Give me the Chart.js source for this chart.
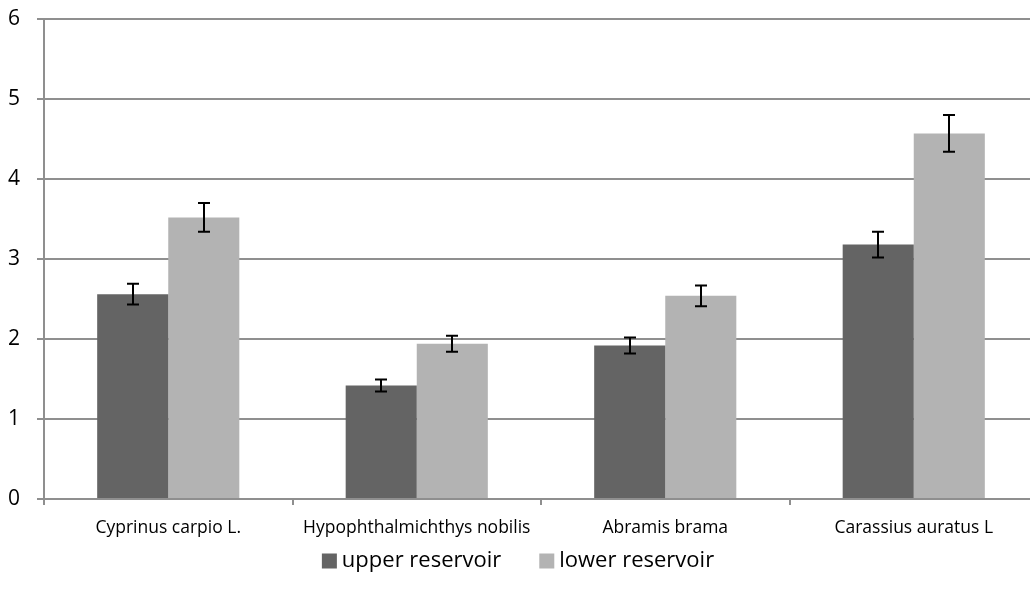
<!DOCTYPE html>
<html>
<head>
<meta charset="utf-8">
<script src="https://cdn.jsdelivr.net/npm/chart.js@4.4.1/dist/chart.umd.min.js"></script>
<style>
  html, body { margin: 0; padding: 0; background: #fff; overflow: hidden; }
  #wrap { position: relative; width: 1040px; height: 597px; }
</style>
</head>
<body>
<div id="wrap"><canvas id="c"></canvas></div>
<script>
// Species sampled in the two reservoirs
const categories = ['Cyprinus carpio L.', 'Hypophthalmichthys nobilis', 'Abramis brama', 'Carassius auratus L'];

// Mean values per species
const upperValues = [2.56, 1.42, 1.92, 3.18];
const lowerValues = [3.52, 1.94, 2.54, 4.57];

// Standard errors (half-length of each whisker)
const upperErrors = [0.13, 0.075, 0.1, 0.16];
const lowerErrors = [0.18, 0.1, 0.13, 0.23];

const seriesNames = ['upper reservoir', 'lower reservoir'];
const yTicks = [0, 1, 2, 3, 4, 5, 6];

const FONT = "'Open Sans', 'Liberation Sans', sans-serif";
const GRID = '#8f8f8f';

// Draws the whiskers on top of each bar using the value scale
const errorBars = {
  id: 'errorBars',
  afterDatasetsDraw(chart) {
    const ctx = chart.ctx;
    const y = chart.scales.y;
    ctx.save();
    ctx.strokeStyle = '#000';
    ctx.lineWidth = 2;
    chart.data.datasets.forEach((ds, i) => {
      const meta = chart.getDatasetMeta(i);
      meta.data.forEach((bar, j) => {
        const v = ds.data[j];
        const e = ds.errors[j];
        const x = Math.round(bar.x);
        const yTop = y.getPixelForValue(v + e);
        const yBot = y.getPixelForValue(v - e);
        const cap = 6;
        ctx.beginPath();
        ctx.moveTo(x, yTop); ctx.lineTo(x, yBot);
        ctx.moveTo(x - cap, yTop); ctx.lineTo(x + cap, yTop);
        ctx.moveTo(x - cap, yBot); ctx.lineTo(x + cap, yBot);
        ctx.stroke();
      });
    });
    ctx.restore();
  }
};

// Compact legend row under the axis: square swatch, small gap, series name
const bottomLegend = {
  id: 'bottomLegend',
  afterDraw(chart) {
    const ctx = chart.ctx;
    const box = 15, gap = 5, itemGap = 38, cy = 561;
    ctx.save();
    ctx.font = `22px ${FONT}`;
    ctx.textBaseline = 'middle';
    const items = chart.data.datasets.map(ds => ({
      text: ds.label, color: ds.backgroundColor, w: ctx.measureText(ds.label).width
    }));
    const total = items.reduce((s, it) => s + box + gap + it.w, 0) + itemGap * (items.length - 1);
    let x = 518 - total / 2;
    items.forEach(it => {
      ctx.fillStyle = it.color;
      ctx.fillRect(x, cy - box / 2, box, box);
      ctx.fillStyle = '#000';
      ctx.fillText(it.text, x + box + gap, cy);
      x += box + gap + it.w + itemGap;
    });
    ctx.restore();
  }
};

new Chart(document.getElementById('c'), {
  type: 'bar',
  data: {
    labels: categories,
    datasets: [
      { label: seriesNames[0], data: upperValues, errors: upperErrors, backgroundColor: '#646464' },
      { label: seriesNames[1], data: lowerValues, errors: lowerErrors, backgroundColor: '#b3b3b3' }
    ]
  },
  options: {
    responsive: true,
    maintainAspectRatio: false,
    animation: false,
    layout: { padding: { top: 19, right: 2, left: 0, bottom: 57 } },
    datasets: { bar: { categoryPercentage: 0.572, barPercentage: 1.0 } },
    plugins: {
      tooltip: { enabled: false },
      legend: { display: false }
    },
    scales: {
      x: {
        grid: { drawOnChartArea: false, drawTicks: true, tickLength: 6, color: GRID, lineWidth: 2 },
        border: { color: GRID, width: 2 },
        ticks: { font: { family: FONT, size: 17.5 }, color: '#000', padding: 13, maxRotation: 0 },
        afterFit(scale) { scale.height = 41; scale.paddingLeft = 0; scale.paddingRight = 0; }
      },
      y: {
        min: 0,
        max: 6,
        afterBuildTicks(scale) { scale.ticks = yTicks.map(v => ({ value: v })); },
        grid: { color: GRID, lineWidth: 2, tickLength: 7 },
        border: { color: GRID, width: 2 },
        ticks: { font: { family: FONT, size: 21 }, color: '#000', padding: 17 },
        afterFit(scale) { scale.width = 44; scale.paddingTop = 0; scale.paddingBottom = 0; }
      }
    }
  },
  plugins: [errorBars, bottomLegend]
});
</script>
</body>
</html>
